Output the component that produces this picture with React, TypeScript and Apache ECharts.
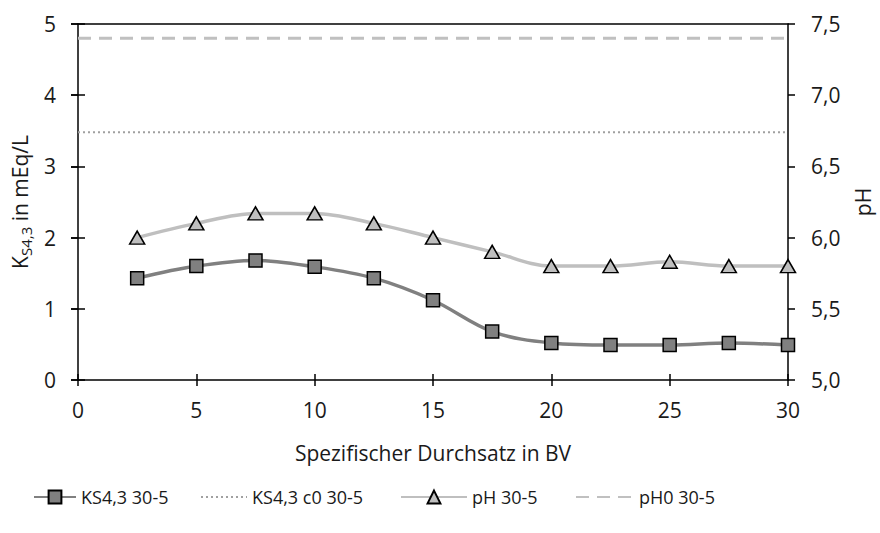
import React, { useEffect, useRef } from "react";
import * as echarts from "echarts";

// Specific throughput in bed volumes (BV)
const bv = [2.5, 5, 7.5, 10, 12.5, 15, 17.5, 20, 22.5, 25, 27.5, 30];
// Acid capacity KS4,3 in mEq/L
const ks43 = [1.43, 1.6, 1.68, 1.59, 1.43, 1.12, 0.68, 0.52, 0.49, 0.49, 0.52, 0.49];
// pH along the run
const ph = [6.0, 6.1, 6.17, 6.17, 6.1, 6.0, 5.9, 5.8, 5.8, 5.83, 5.8, 5.8];
// Inflow reference levels
const ks43C0 = 3.48;
const ph0 = 7.4;
const refX = [0, 30];

const seriesNames = ["KS4,3 30-5", "KS4,3 c0 30-5", "pH 30-5", "pH0 30-5"];

const FONT = "'Open Sans', 'Noto Sans', sans-serif";
const TXT = "#1a1a1a";
const FS = 21;

export default function App() {
  const ref = useRef<HTMLDivElement>(null);

  useEffect(() => {
    if (!ref.current) return;
    const chart = echarts.init(ref.current, undefined, { renderer: "svg" });

    const comma = (v: number) => v.toFixed(1).replace(".", ",");
    const blank = { show: false };
    const axisLine = { show: true, onZero: false, lineStyle: { color: "#000", width: 1.5 } };
    const tickOut = (len: number) => ({ show: true, length: len, lineStyle: { color: "#000", width: 1.5 } });
    const tickIn = (len: number) => ({ show: true, inside: true, length: len, lineStyle: { color: "#000", width: 1.5 } });

    const legendBase = {
      bottom: 22,
      itemHeight: 16,
      textStyle: { fontFamily: FONT, fontSize: 18, color: TXT },
    };

    chart.setOption({
      animation: false,
      textStyle: { fontFamily: FONT },
      grid: { left: 78, right: 92, top: 24, bottom: 153, outerBoundsMode: "none", containLabel: false },
      legend: [
        { ...legendBase, left: 28, itemWidth: 42, data: [seriesNames[0]] },
        { ...legendBase, left: 195, itemWidth: 46, data: [{ name: seriesNames[1], itemStyle: { opacity: 0 } }] },
        { ...legendBase, left: 395, itemWidth: 66, data: [seriesNames[2]] },
        { ...legendBase, left: 570, itemWidth: 58, data: [{ name: seriesNames[3], itemStyle: { opacity: 0 } }] },
      ],
      xAxis: [
        {
          type: "value",
          min: 0,
          max: 30,
          interval: 5,
          position: "bottom",
          name: "Spezifischer Durchsatz in BV",
          nameLocation: "middle",
          nameGap: 62,
          nameTextStyle: { fontFamily: FONT, fontSize: FS, color: TXT },
          axisLine,
          axisTick: tickOut(6),
          axisLabel: { fontFamily: FONT, fontSize: FS, color: TXT, margin: 19 },
          splitLine: blank,
        },
        {
          type: "value",
          min: 0,
          max: 30,
          interval: 5,
          position: "top",
          axisLine,
          axisTick: blank,
          axisLabel: blank,
          splitLine: blank,
        },
        {
          type: "value",
          min: 0,
          max: 30,
          interval: 5,
          position: "bottom",
          axisLine: blank,
          axisTick: tickIn(6),
          axisLabel: blank,
          splitLine: blank,
        },
      ],
      yAxis: [
        {
          type: "value",
          min: 0,
          max: 5,
          interval: 1,
          position: "left",
          name: "{m|K}{sub|S4,3}{m| in mEq/L}",
          nameLocation: "middle",
          nameGap: 44,
          nameRotate: 90,
          nameTextStyle: {
            fontFamily: FONT,
            fontSize: FS,
            color: TXT,
            rich: {
              m: { fontFamily: FONT, fontSize: FS, color: TXT },
              sub: { fontFamily: FONT, fontSize: 15, color: TXT, padding: [12, 0, 0, 0] },
            },
          },
          axisLine,
          axisTick: tickOut(7),
          axisLabel: { fontFamily: FONT, fontSize: FS, color: TXT, margin: 22 },
          splitLine: blank,
        },
        {
          type: "value",
          min: 5,
          max: 7.5,
          interval: 0.5,
          position: "right",
          name: "pH",
          nameLocation: "middle",
          nameGap: 64,
          nameRotate: 90,
          nameTextStyle: { fontFamily: FONT, fontSize: FS, color: TXT },
          axisLine,
          axisTick: tickOut(7),
          axisLabel: { fontFamily: FONT, fontSize: FS, color: TXT, margin: 23, formatter: comma },
          splitLine: blank,
        },
        {
          type: "value",
          min: 0,
          max: 5,
          interval: 1,
          position: "left",
          axisLine: blank,
          axisTick: tickIn(7),
          axisLabel: blank,
          splitLine: blank,
        },
        {
          type: "value",
          min: 5,
          max: 7.5,
          interval: 0.5,
          position: "right",
          axisLine: blank,
          axisTick: tickIn(7),
          axisLabel: blank,
          splitLine: blank,
        },
      ],
      series: [
        {
          name: seriesNames[1],
          type: "line",
          xAxisIndex: 0,
          yAxisIndex: 0,
          data: refX.map((x) => [x, ks43C0]),
          symbol: "none",
          lineStyle: { color: "#a0a0a0", width: 2, type: [2, 3] },
          itemStyle: { color: "#a0a0a0" },
          z: 1,
        },
        {
          name: seriesNames[3],
          type: "line",
          xAxisIndex: 0,
          yAxisIndex: 1,
          data: refX.map((x) => [x, ph0]),
          symbol: "none",
          lineStyle: { color: "#c0c0c0", width: 3, type: [13, 8] },
          itemStyle: { color: "#c0c0c0" },
          z: 1,
        },
        {
          name: seriesNames[2],
          type: "line",
          xAxisIndex: 0,
          yAxisIndex: 1,
          data: bv.map((x, i) => [x, ph[i]]),
          smooth: 0.35,
          symbol: "triangle",
          symbolSize: [15, 13],
          lineStyle: { color: "#bfbfbf", width: 3.5 },
          itemStyle: { color: "#bfbfbf", borderColor: "#000", borderWidth: 1.5 },
          z: 3,
        },
        {
          name: seriesNames[0],
          type: "line",
          xAxisIndex: 0,
          yAxisIndex: 0,
          data: bv.map((x, i) => [x, ks43[i]]),
          smooth: 0.35,
          symbol: "rect",
          symbolSize: 13,
          lineStyle: { color: "#808080", width: 3.5 },
          itemStyle: { color: "#808080", borderColor: "#000", borderWidth: 1.5 },
          z: 4,
        },
      ],
    });

    return () => chart.dispose();
  }, []);

  return (
    <div
      ref={ref}
      style={{ position: "absolute", left: 0, top: 0, width: 880, height: 533 }}
    />
  );
}
